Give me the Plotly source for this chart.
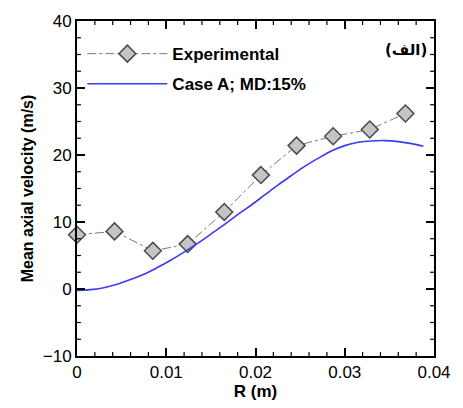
import numpy as np
import plotly.graph_objects as go

# Measured mean axial velocity profile
r_exp = [0.0, 0.0042, 0.0085, 0.0124, 0.0165, 0.0206, 0.0246, 0.0287, 0.0328, 0.0368]
u_exp = [8.1, 8.6, 5.7, 6.7, 11.5, 17.0, 21.4, 22.8, 23.8, 26.2]

# Simulated profile, Case A (MD 15%)
r_sim = [0.0, 0.0015, 0.003, 0.0045, 0.006, 0.0075, 0.009, 0.0105, 0.012, 0.0135,
         0.015, 0.0165, 0.018, 0.0195, 0.021, 0.0225, 0.024, 0.0255, 0.027, 0.0285,
         0.03, 0.0315, 0.033, 0.0345, 0.036, 0.0375, 0.0388]
u_sim = [-0.2, -0.1, 0.2, 0.7, 1.4, 2.2, 3.2, 4.3, 5.5, 6.8,
         8.2, 9.6, 11.1, 12.5, 14.0, 15.5, 16.9, 18.3, 19.5, 20.6,
         21.4, 21.9, 22.1, 22.15, 22.0, 21.7, 21.3]

x_ticks = [0, 0.01, 0.02, 0.03, 0.04]
x_tick_labels = ["0", "0.01", "0.02", "0.03", "0.04"]
y_ticks = [-10, 0, 10, 20, 30, 40]

X_RANGE = [0, 0.04]
Y_RANGE = [-10, 40]

# minor tick positions (every 0.002 m and every 2.5 m/s)
x_minor = [round(v, 4) for v in np.arange(0.002, 0.04, 0.002) if round(v, 4) not in x_ticks]
y_minor = [round(v, 2) for v in np.arange(-7.5, 40, 2.5) if round(v, 2) not in y_ticks]

FONT = "Liberation Sans, Arial, sans-serif"

W, H = 463, 408
MARGIN = dict(l=77, r=20, t=20, b=47)
PLOT_W = W - MARGIN["l"] - MARGIN["r"]
PLOT_H = H - MARGIN["t"] - MARGIN["b"]
MINOR_LEN = 4  # px
dx_minor = (X_RANGE[1] - X_RANGE[0]) * MINOR_LEN / PLOT_W
dy_minor = (Y_RANGE[1] - Y_RANGE[0]) * MINOR_LEN / PLOT_H

fig = go.Figure()
fig.add_trace(go.Scatter(
    x=r_exp, y=u_exp, mode="lines+markers", name="<b>Experimental</b>",
    legendgroup="exp",
    line=dict(color="#7a7a7a", width=1, dash="dashdot"),
    marker=dict(symbol="diamond", size=13, color="#c4c4c4",
                line=dict(color="#4a4a4a", width=1.5)),
    cliponaxis=False,
))
fig.add_trace(go.Scatter(
    x=r_sim, y=u_sim, mode="lines", name="<b>Case A; MD:15%</b>",
    legendgroup="sim",
    line=dict(color="#3b3bf0", width=1.6, shape="spline"),
))

axis_common = dict(
    showline=True, linecolor="black", linewidth=2, mirror="ticks",
    ticks="inside", ticklen=8, tickwidth=1.5, tickcolor="black",
    showgrid=False, zeroline=False,
    tickfont=dict(family=FONT, size=17, color="black"),
)

fig.update_layout(
    xaxis=dict(
        range=X_RANGE, tickmode="array", tickvals=x_ticks, ticktext=x_tick_labels,
        title=dict(text="<b>R (m)</b>", font=dict(family=FONT, size=17, color="black"), standoff=2),
        **axis_common,
    ),
    yaxis=dict(
        range=Y_RANGE, tickmode="array", tickvals=y_ticks,
        title=dict(text="<b>Mean axial velocity (m/s)</b>", font=dict(family=FONT, size=16, color="black"), standoff=5),
        **axis_common,
    ),
)

# short inward minor ticks on all four sides
tick_line = dict(color="black", width=1.2)
shapes = []
for xv in x_minor:
    shapes.append(dict(type="line", xref="x", yref="y", x0=xv, x1=xv,
                       y0=Y_RANGE[0], y1=Y_RANGE[0] + dy_minor, line=tick_line, layer="above"))
    shapes.append(dict(type="line", xref="x", yref="y", x0=xv, x1=xv,
                       y0=Y_RANGE[1], y1=Y_RANGE[1] - dy_minor, line=tick_line, layer="above"))
for yv in y_minor:
    shapes.append(dict(type="line", xref="x", yref="y", y0=yv, y1=yv,
                       x0=X_RANGE[0], x1=X_RANGE[0] + dx_minor, line=tick_line, layer="above"))
    shapes.append(dict(type="line", xref="x", yref="y", y0=yv, y1=yv,
                       x0=X_RANGE[1], x1=X_RANGE[1] - dx_minor, line=tick_line, layer="above"))

fig.add_annotation(
    x=0.985, y=0.912, xref="paper", yref="paper", xanchor="right", yanchor="middle",
    text="<b>(الف)</b>", showarrow=False,
    font=dict(family="DejaVu Sans", size=15, color="black"),
)

fig.update_layout(
    width=W, height=H,
    margin=MARGIN,
    shapes=shapes,
    paper_bgcolor="white", plot_bgcolor="white",
    showlegend=True,
    legend=dict(
        x=0.015, y=0.955, xanchor="left", yanchor="top",
        bgcolor="rgba(0,0,0,0)", borderwidth=0, itemwidth=80,
        font=dict(family=FONT, size=17, color="black"),
        traceorder="grouped", tracegroupgap=5,
    ),
    font=dict(family=FONT),
)

fig.write_html("out.html")
